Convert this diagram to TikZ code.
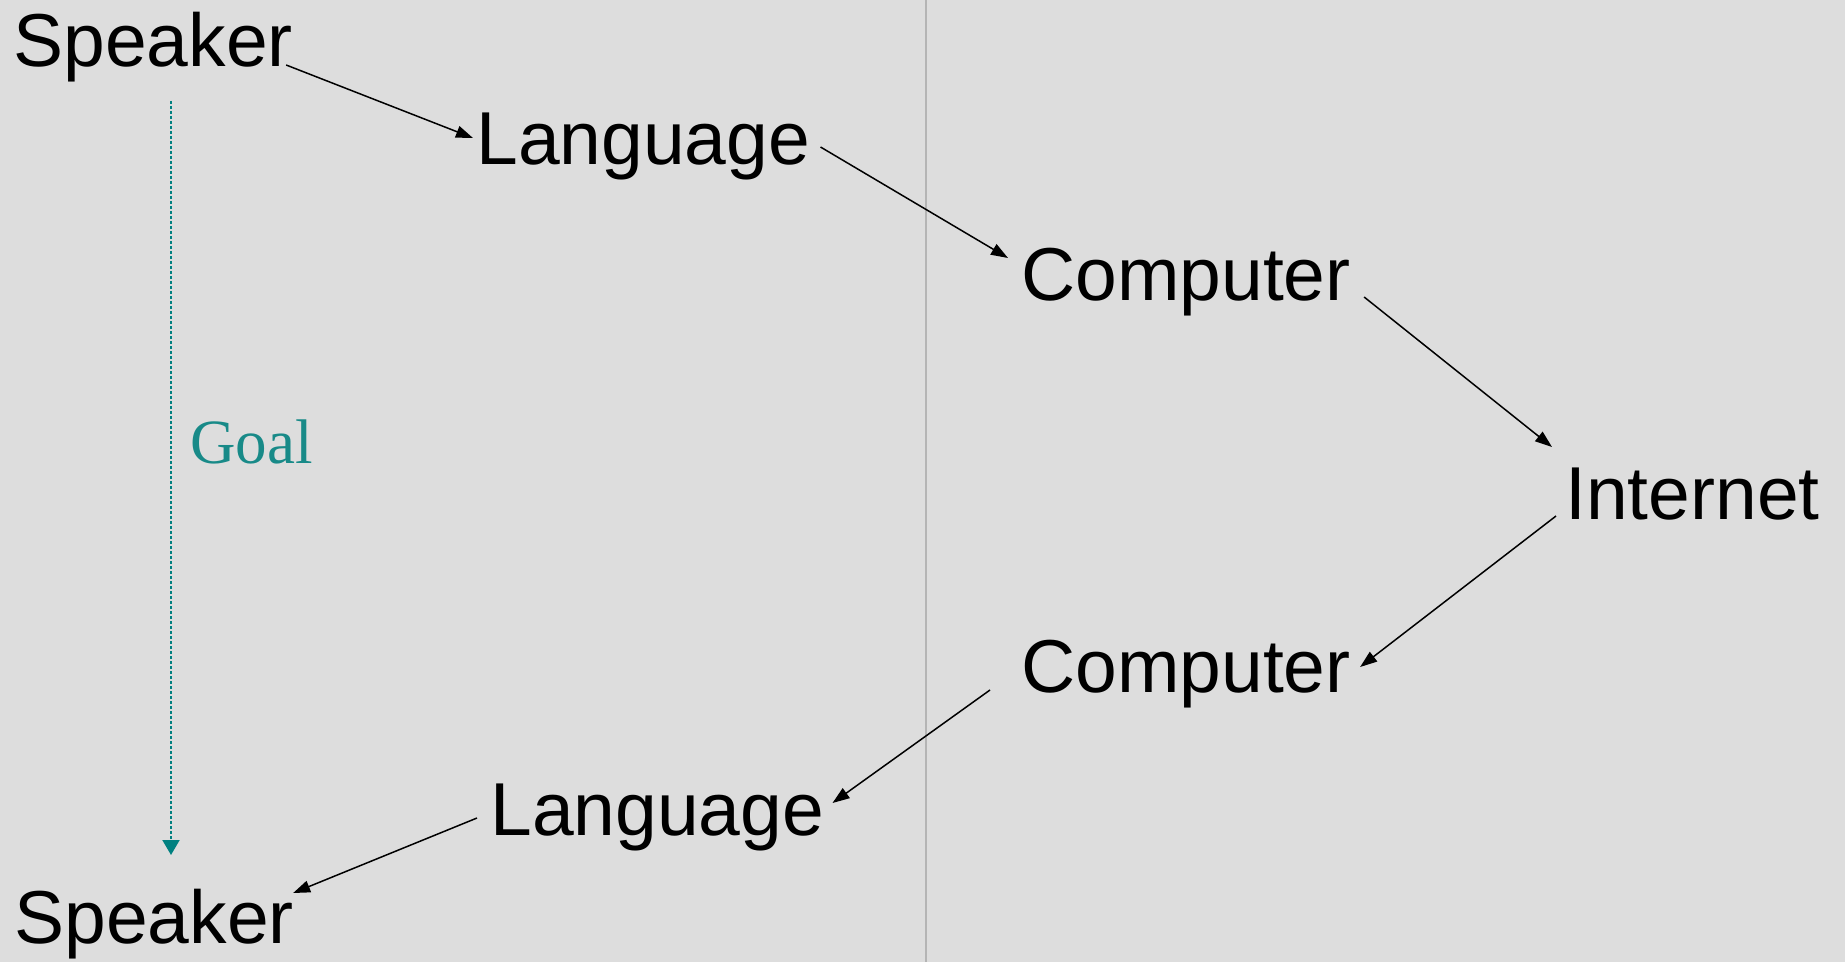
\documentclass[tikz,border=0pt]{standalone}
\usepackage{fontspec}
\setmainfont{Liberation Sans}
\newfontfamily\goalfont{Liberation Serif}
\usetikzlibrary{arrows.meta,calc}
\definecolor{slidebg}{RGB}{221,221,221}
\definecolor{divider}{RGB}{180,180,180}
\definecolor{goalteal}{RGB}{24,138,136}
\definecolor{goalline}{RGB}{0,128,128}

\begin{document}
\begin{tikzpicture}[x=0.5pt,y=0.5pt,yscale=-1,xscale=1,
  word/.style={inner sep=0pt,anchor=base west,font=\fontsize{37.5pt}{45pt}\selectfont},
  flow/.style={line width=0.75pt,-{Triangle[length=8.5pt,width=6pt]}},
  goalarrow/.style={goalline,line width=1pt,dash pattern={on 1.5pt off 1pt},-{Triangle[length=7.5pt,width=8.5pt]}}]

%Shape: Rectangle (slide)
\fill [slidebg] (0,0) rectangle (1845,962) ;
\useasboundingbox (0,0) rectangle (1845,962) ;
%Straight Lines (divider)
\draw [divider,line width=0.8pt] (926,0) -- (926,962) ;

% Text Node
\node [word] (spk1) at (13,67) {Speaker};
% Text Node
\node [word] (lang1) at (476,165) {Language};
% Text Node
\node [word] (comp1) at (1021,301) {Computer};
% Text Node
\node [word] (inet) at (1565,519) {Internet};
% Text Node
\node [word] (comp2) at (1021,692) {Computer};
% Text Node
\node [word] (lang2) at (490,835) {Language};
% Text Node
\node [word] (spk2) at (14,943) {Speaker};
% Text Node
\node [inner sep=0pt,anchor=base west,text=goalteal,font=\goalfont\fontsize{31.5pt}{38pt}\selectfont] (goal) at (190,463) {Goal};

%Straight Lines
\draw [flow] ($(spk1.base east)+(-7,-2)$) -- ($(lang1.base west)+(-3,-27)$) ;
\draw [flow] ($(lang1.base east)+(10,-18)$) -- ($(comp1.base west)+(-13,-43)$) ;
\draw [flow] ($(comp1.base east)+(13,-4)$) -- ($(inet.base west)+(-13,-72)$) ;
\draw [flow] ($(inet.base west)+(-9,-3)$) -- ($(comp2.base east)+(9,-25)$) ;
\draw [flow] ($(comp2.base west)+(-31,-2)$) -- ($(lang2.base east)+(8,-32)$) ;
\draw [flow] ($(lang2.base west)+(-13,-17)$) -- ($(spk2.base east)+(-1,-50)$) ;

%Straight Lines (goal)
\coordinate (goaltop) at (171,101) ;
\coordinate (goalend) at (171,855) ;
\draw [goalarrow] (goaltop) -- (goalend) ;

\end{tikzpicture}
\end{document}
